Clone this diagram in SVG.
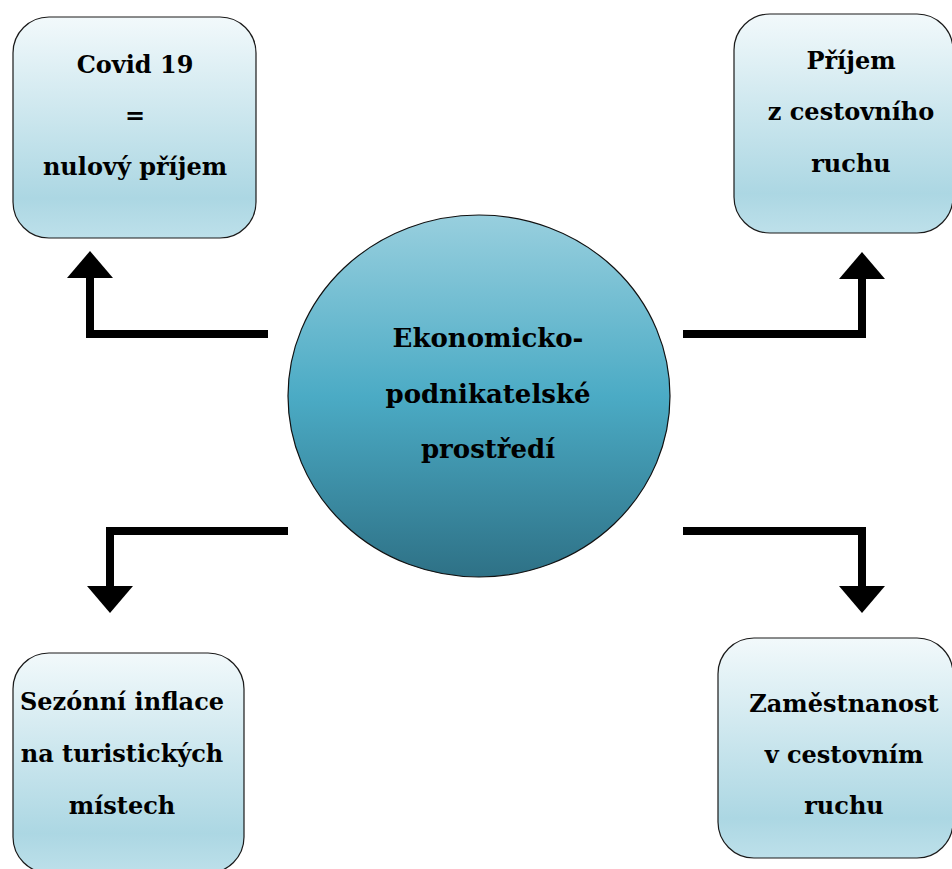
<svg xmlns="http://www.w3.org/2000/svg" width="952" height="869" viewBox="0 0 952 869">
  <defs>
    <linearGradient id="boxGrad" x1="0" y1="0" x2="0" y2="1">
      <stop offset="0" stop-color="#f2f9fb"/>
      <stop offset="0.82" stop-color="#acd7e3"/>
      <stop offset="1" stop-color="#bde0ea"/>
    </linearGradient>
    <linearGradient id="circGrad" x1="0" y1="0" x2="0" y2="1">
      <stop offset="0" stop-color="#98cfde"/>
      <stop offset="0.5" stop-color="#4babc5"/>
      <stop offset="1" stop-color="#2e7186"/>
    </linearGradient>
    <marker id="head" markerUnits="userSpaceOnUse" markerWidth="28" markerHeight="46" refX="0" refY="23" orient="auto" viewBox="0 0 28 46">
      <path d="M0,0 L27,23 L0,46 Z" fill="#000"/>
    </marker>
    <style>
      .box { fill: url(#boxGrad); stroke: #1a1a1a; stroke-width: 1.2; }
      .circ { fill: url(#circGrad); stroke: #111; stroke-width: 1.2; }
      .lbl { font-family: "DejaVu Serif", "Liberation Serif", serif; font-weight: bold; font-size: 24px; fill: #000; text-anchor: middle; }
      .clbl { font-size: 26px; }
      .conn { fill: none; stroke: #000; stroke-width: 8; stroke-linejoin: miter; marker-end: url(#head); }
    </style>
  </defs>

  <g id="connectors">
    <path class="conn" d="M268,334 H90 V278"/>
    <path class="conn" d="M683,334 H862 V279"/>
    <path class="conn" d="M288,531 H110 V586"/>
    <path class="conn" d="M683,531 H862 V586"/>
  </g>

  <g id="node-center">
    <ellipse class="circ" cx="479" cy="396" rx="191" ry="181"/>
    <text class="lbl clbl" x="488" y="347">Ekonomicko-</text>
    <text class="lbl clbl" x="488" y="403">podnikatelské</text>
    <text class="lbl clbl" x="488" y="458">prostředí</text>
  </g>

  <g id="node-covid">
    <rect class="box" x="13" y="17" width="243" height="221" rx="36" ry="36"/>
    <text class="lbl" x="135" y="73">Covid 19</text>
    <text class="lbl" x="135" y="124">=</text>
    <text class="lbl" x="135" y="175">nulový příjem</text>
  </g>

  <g id="node-prijem">
    <rect class="box" x="734" y="14" width="219" height="219" rx="36" ry="36"/>
    <text class="lbl" x="851" y="69">Příjem</text>
    <text class="lbl" x="851" y="120">z cestovního</text>
    <text class="lbl" x="851" y="172">ruchu</text>
  </g>

  <g id="node-inflace">
    <rect class="box" x="13" y="653" width="231" height="220" rx="36" ry="36"/>
    <text class="lbl" x="122" y="710">Sezónní inflace</text>
    <text class="lbl" x="122" y="762">na turistických</text>
    <text class="lbl" x="122" y="814">místech</text>
  </g>

  <g id="node-zamestnanost">
    <rect class="box" x="718" y="638" width="235" height="220" rx="36" ry="36"/>
    <text class="lbl" x="844" y="712">Zaměstnanost</text>
    <text class="lbl" x="844" y="763">v cestovním</text>
    <text class="lbl" x="844" y="814">ruchu</text>
  </g>
</svg>
